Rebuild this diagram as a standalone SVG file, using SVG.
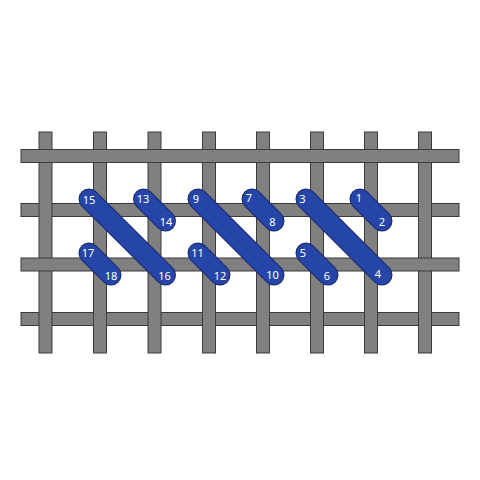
<svg xmlns="http://www.w3.org/2000/svg" width="480" height="480" viewBox="0 0 480 480">
<style>
.bar{fill:#808080;stroke:#3a3a3a;stroke-width:1}
.so{stroke:#1b2a6e;stroke-width:21;stroke-linecap:round}
.si{stroke:#2645a8;stroke-width:19;stroke-linecap:round}
.lb{fill:#ffffff;font-family:"Noto Sans","DejaVu Sans",sans-serif;font-size:11px;text-anchor:middle}
</style>
<rect width="480" height="480" fill="#ffffff"/>
<g id="grid">
<!-- under rows -->
<rect class="bar" x="21" y="203.5" width="438" height="13"/>
<rect class="bar" x="21" y="312.5" width="438" height="13"/>
<!-- verticals -->
<rect class="bar" x="39" y="132" width="13" height="221"/>
<rect class="bar" x="93.5" y="132" width="13" height="221"/>
<rect class="bar" x="148" y="132" width="13" height="221"/>
<rect class="bar" x="202.5" y="132" width="13" height="221"/>
<rect class="bar" x="256.5" y="132" width="13" height="221"/>
<rect class="bar" x="310.5" y="132" width="13" height="221"/>
<rect class="bar" x="364.5" y="132" width="13" height="221"/>
<rect class="bar" x="418.5" y="132" width="13" height="221"/>
<!-- over rows -->
<rect class="bar" x="21" y="149.5" width="438" height="13"/>
<rect class="bar" x="21" y="258" width="438" height="13"/>
</g>
<g id="stitches">
<g id="s1-2"><line class="so" x1="360" y1="199" x2="382" y2="221"/><line class="si" x1="360" y1="199" x2="382" y2="221"/></g>
<g id="s3-4"><line class="so" x1="306" y1="199" x2="382" y2="275"/><line class="si" x1="306" y1="199" x2="382" y2="275"/></g>
<g id="s5-6"><line class="so" x1="306" y1="253" x2="328" y2="275"/><line class="si" x1="306" y1="253" x2="328" y2="275"/></g>
<g id="s7-8"><line class="so" x1="252" y1="199" x2="274" y2="221"/><line class="si" x1="252" y1="199" x2="274" y2="221"/></g>
<g id="s9-10"><line class="so" x1="198" y1="199" x2="274" y2="275"/><line class="si" x1="198" y1="199" x2="274" y2="275"/></g>
<g id="s11-12"><line class="so" x1="198" y1="253" x2="220" y2="275"/><line class="si" x1="198" y1="253" x2="220" y2="275"/></g>
<g id="s13-14"><line class="so" x1="143.5" y1="199" x2="165.5" y2="221"/><line class="si" x1="143.5" y1="199" x2="165.5" y2="221"/></g>
<g id="s15-16"><line class="so" x1="89" y1="199" x2="165.5" y2="275"/><line class="si" x1="89" y1="199" x2="165.5" y2="275"/></g>
<g id="s17-18"><line class="so" x1="89" y1="253" x2="111" y2="275"/><line class="si" x1="89" y1="253" x2="111" y2="275"/></g>
</g>
<g id="labels">
<text class="lb" x="359" y="202">1</text>
<text class="lb" x="382" y="226">2</text>
<text class="lb" x="302.5" y="203">3</text>
<text class="lb" x="378" y="278">4</text>
<text class="lb" x="303" y="257">5</text>
<text class="lb" x="327" y="280">6</text>
<text class="lb" x="249" y="202">7</text>
<text class="lb" x="272.5" y="226">8</text>
<text class="lb" x="196" y="203">9</text>
<text class="lb" x="272.5" y="279">10</text>
<text class="lb" x="197.5" y="257">11</text>
<text class="lb" x="220" y="280">12</text>
<text class="lb" x="143" y="203">13</text>
<text class="lb" x="166" y="226">14</text>
<text class="lb" x="89" y="204">15</text>
<text class="lb" x="164.5" y="280">16</text>
<text class="lb" x="88" y="257">17</text>
<text class="lb" x="111" y="280">18</text>
</g>
</svg>
